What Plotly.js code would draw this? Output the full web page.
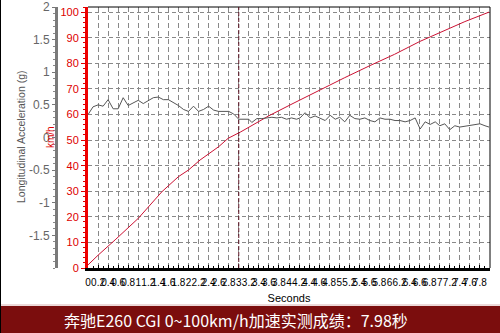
<!DOCTYPE html>
<html>
<head>
<meta charset="utf-8">
<script src="https://cdn.plot.ly/plotly-3.0.1.min.js"></script>
<style>html,body{margin:0;padding:0;background:#fff;}#chart{width:500px;height:333px;}</style>
</head>
<body>
<div id="chart"></div>
<script>
// Speed curve (seconds, km/h)
const speedTime = [0, 0.2, 0.54, 1.0, 1.47, 1.8, 2.0, 2.23, 2.6, 2.79, 3.04, 3.6, 4.1, 4.6, 5.1, 5.6, 6.1, 6.6, 7.1, 7.5, 7.98];
const speedKmh  = [1.2, 5, 11, 19.4, 29.8, 35.7, 38.3, 42.2, 47.4, 50.7, 53.2, 59.5, 64.5, 69.5, 74.3, 79, 83.5, 88.5, 93, 96.3, 100];

// Longitudinal acceleration (seconds, g)
const accTime = [0, 0.1, 0.2, 0.3, 0.4, 0.5, 0.6, 0.7, 0.8, 0.9, 1.0, 1.1, 1.2, 1.3, 1.4, 1.5, 1.6, 1.7, 1.8, 1.9, 2.0, 2.1, 2.2, 2.3, 2.4, 2.5, 2.6, 2.8, 2.9, 3.0, 3.2, 3.26, 3.36, 3.46, 3.56, 3.66, 3.76, 3.85, 3.95, 4.05, 4.15, 4.22, 4.32, 4.42, 4.52, 4.62, 4.72, 4.82, 4.92, 5.01, 5.11, 5.21, 5.31, 5.41, 5.51, 5.61, 5.71, 5.81, 5.91, 6.01, 6.11, 6.21, 6.31, 6.41, 6.51, 6.61, 6.71, 6.81, 6.91, 7.0, 7.1, 7.2, 7.3, 7.4, 7.5, 7.6, 7.7, 7.8, 7.9, 7.98];
const accG    = [0.35, 0.47, 0.50, 0.48, 0.58, 0.44, 0.44, 0.61, 0.49, 0.53, 0.57, 0.52, 0.57, 0.61, 0.62, 0.58, 0.58, 0.54, 0.49, 0.43, 0.40, 0.48, 0.40, 0.43, 0.48, 0.42, 0.40, 0.40, 0.36, 0.28, 0.28, 0.23, 0.29, 0.29, 0.30, 0.31, 0.30, 0.31, 0.28, 0.30, 0.28, 0.30, 0.38, 0.30, 0.33, 0.29, 0.26, 0.34, 0.28, 0.31, 0.24, 0.34, 0.29, 0.28, 0.30, 0.26, 0.24, 0.30, 0.28, 0.28, 0.26, 0.26, 0.24, 0.26, 0.30, 0.13, 0.24, 0.20, 0.24, 0.18, 0.21, 0.12, 0.18, 0.16, 0.17, 0.18, 0.20, 0.21, 0.18, 0.16];

// Tick labels
const xTicks = [0, 0.2, 0.4, 0.6, 0.8, 1, 1.2, 1.4, 1.6, 1.8, 2, 2.2, 2.4, 2.6, 2.8, 3, 3.2, 3.4, 3.6, 3.8, 4, 4.2, 4.4, 4.6, 4.8, 5, 5.2, 5.4, 5.6, 5.8, 6, 6.2, 6.4, 6.6, 6.8, 7, 7.2, 7.4, 7.6, 7.8];
const speedTicks = [0, 10, 20, 30, 40, 50, 60, 70, 80, 90, 100];
const gTicks = [-1.5, -1, -0.5, 0, 0.5, 1, 1.5, 2];
const gTickText = ['-1.5', '-1', '-0.5', '0', '0.5', '1', '1.5', '2'];
const cursorTime = [3.0];

const titleText = '奔驰E260 CGI 0~100km/h加速实测成绩：7.98秒';

const W = 500, H = 333;
const mL = 20, mR = 10, mT = 7, mB = 65;
const pw = W - mL - mR, ph = H - mT - mB;
const px = v => (v - mL) / pw;
const py = v => (H - mB - v) / ph;

const traces = [
  {x: accTime, y: accG, yaxis: 'y2', mode: 'lines', line: {color: '#555555', width: 1}, hoverinfo: 'skip'},
  {x: speedTime, y: speedKmh, mode: 'lines', line: {color: '#cc1133', width: 1}, hoverinfo: 'skip'}
];

const layout = {
  width: W, height: H,
  margin: {l: mL, r: mR, t: mT, b: mB},
  paper_bgcolor: '#ffffff', plot_bgcolor: '#ffffff',
  showlegend: false,
  font: {family: 'Arial, "Liberation Sans", sans-serif'},
  xaxis: {
    domain: [px(88), 1], range: [0, 8],
    tickmode: 'array', tickvals: xTicks, tickangle: 0,
    tickfont: {size: 10, color: '#000'}, ticklabelstandoff: 3,
    ticks: 'inside', ticklen: 3, tickcolor: '#000',
    minor: {dtick: 0.1, ticks: 'inside', ticklen: 2, tickcolor: '#000', showgrid: false},
    showline: true, linecolor: '#000', linewidth: 3,
    showgrid: true, gridcolor: '#888', griddash: '5px,3px', gridwidth: 1,
    zeroline: false,
    title: {text: 'Seconds', font: {size: 11, color: '#000'}, standoff: 8}
  },
  yaxis: {
    range: [0, 102], tickmode: 'array', tickvals: speedTicks,
    tickfont: {size: 11, color: '#dd0000'},
    ticks: 'outside', ticklen: 4, tickcolor: '#dd0000', tickwidth: 1,
    minor: {dtick: 2, ticks: 'outside', ticklen: 2, tickcolor: '#dd0000', showgrid: false},
    showline: true, linecolor: '#ee0000', linewidth: 3,
    showgrid: true, gridcolor: '#888', griddash: '4px,3px', gridwidth: 1,
    zeroline: false
  },
  yaxis2: {
    overlaying: 'y', anchor: 'free', position: px(56), side: 'left',
    range: [-2, 2], tickmode: 'array', tickvals: gTicks, ticktext: gTickText,
    tickfont: {size: 12, color: '#666'},
    ticks: 'outside', ticklen: 3, tickcolor: '#777',
    minor: {dtick: 0.1, ticks: 'outside', ticklen: 2, tickcolor: '#888'},
    showline: true, linecolor: '#7a7a7a', linewidth: 3,
    showgrid: false, zeroline: false
  },
  shapes: [
    {type: 'line', xref: 'x domain', yref: 'y domain', x0: 0, x1: 1, y0: 1, y1: 1, line: {color: '#000', width: 1}},
    {type: 'line', xref: 'x domain', yref: 'y domain', x0: 1, x1: 1, y0: 0, y1: 1, line: {color: '#000', width: 1}},
    {type: 'line', xref: 'x', yref: 'y domain', x0: cursorTime[0], x1: cursorTime[0], y0: 0, y1: 1, line: {color: '#5a1020', width: 1, dash: '4px,2px'}},
    {type: 'rect', xref: 'paper', yref: 'paper', x0: px(0), x1: px(500), y0: py(333), y1: py(306), fillcolor: '#7b0d0d', line: {width: 0}},
    {type: 'line', xref: 'paper', yref: 'paper', x0: px(0), x1: px(500), y0: py(305), y1: py(305), line: {color: '#d9b3b3', width: 1}},
    {type: 'line', xref: 'paper', yref: 'paper', x0: px(0.5), x1: px(0.5), y0: py(0), y1: py(333), line: {color: '#000', width: 1}}
  ],
  annotations: [
    {text: 'Longitudinal Acceleration (g)', xref: 'paper', yref: 'paper', x: px(21), y: py(137), textangle: -90, showarrow: false, font: {size: 10.5, color: '#555'}, xanchor: 'center', yanchor: 'middle'},
    {text: 'km/h', xref: 'paper', yref: 'paper', x: px(50), y: py(137), textangle: -90, showarrow: false, font: {size: 10, color: '#dd0000'}, xanchor: 'center', yanchor: 'middle'},
    {text: titleText, xref: 'paper', yref: 'paper', x: px(236), y: py(320), showarrow: false, font: {size: 16, color: '#ffffff', family: '"Noto Sans CJK SC", sans-serif'}, xanchor: 'center', yanchor: 'middle'}
  ]
};

Plotly.newPlot('chart', traces, layout, {staticPlot: true, displayModeBar: false});
</script>
</body>
</html>
